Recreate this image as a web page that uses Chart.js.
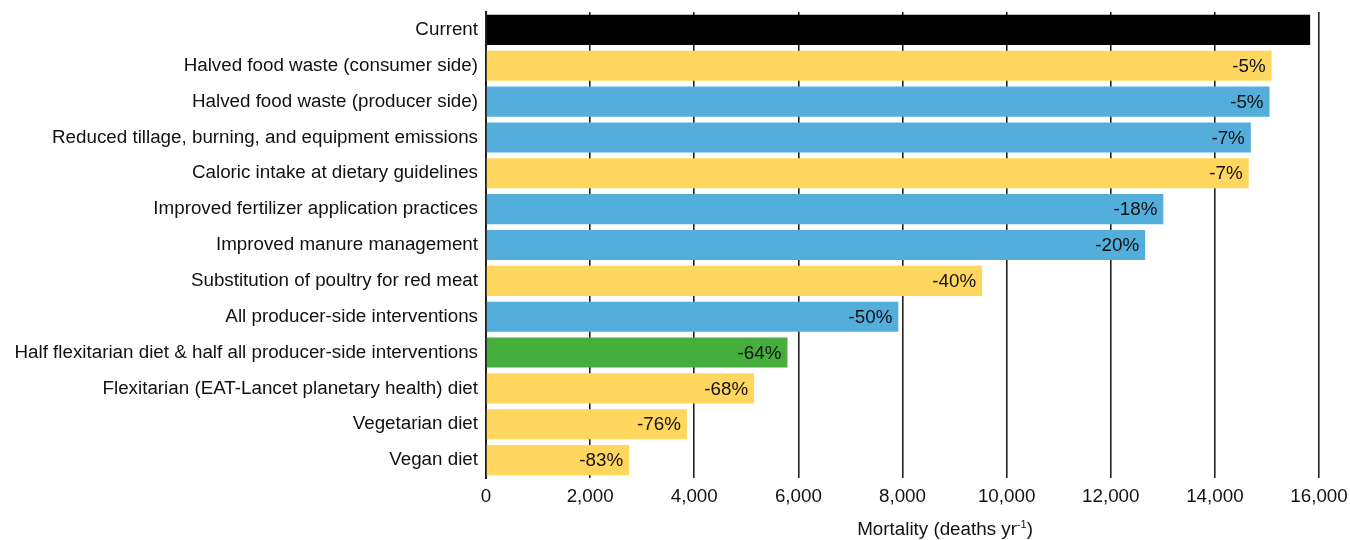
<!DOCTYPE html>
<html>
<head>
<meta charset="utf-8">
<script src="https://cdn.jsdelivr.net/npm/chart.js@4/dist/chart.umd.min.js"></script>
<style>
  html, body { margin: 0; padding: 0; background: #fff; }
  #wrap { width: 1350px; height: 540px; }
</style>
</head>
<body>
<div id="wrap"><canvas id="mortalityChart"></canvas></div>
<script>
// scenarios, top to bottom
const scenarios = [
  'Current',
  'Halved food waste (consumer side)',
  'Halved food waste (producer side)',
  'Reduced tillage, burning, and equipment emissions',
  'Caloric intake at dietary guidelines',
  'Improved fertilizer application practices',
  'Improved manure management',
  'Substitution of poultry for red meat',
  'All producer-side interventions',
  'Half flexitarian diet & half all producer-side interventions',
  'Flexitarian (EAT-Lancet planetary health) diet',
  'Vegetarian diet',
  'Vegan diet'
];

// deaths per year
const mortality = [15830, 15090, 15050, 14690, 14650, 13010, 12660, 9530, 7920, 5790, 5150, 3860, 2750];

// change vs current
const changeLabels = ['', '-5%', '-5%', '-7%', '-7%', '-18%', '-20%', '-40%', '-50%', '-64%', '-68%', '-76%', '-83%'];

// which side the intervention is on
const groups = ['current', 'consumer', 'producer', 'producer', 'consumer', 'producer', 'producer',
  'consumer', 'producer', 'combined', 'consumer', 'consumer', 'consumer'];

const xTicks = [0, 2000, 4000, 6000, 8000, 10000, 12000, 14000, 16000];

const groupColors = {
  current: '#000000',
  consumer: '#FFD75E',
  producer: '#54AEDB',
  combined: '#46AE3C'
};

const FONT = '"Liberation Sans", Arial, Helvetica, sans-serif';
const FS = 18.8;

// percent labels inside the bar ends
const barLabels = {
  id: 'barLabels',
  afterDatasetsDraw(chart) {
    const ctx = chart.ctx;
    const meta = chart.getDatasetMeta(0);
    ctx.save();
    ctx.font = FS + 'px ' + FONT;
    ctx.fillStyle = '#111';
    ctx.textAlign = 'right';
    ctx.textBaseline = 'middle';
    meta.data.forEach((bar, i) => {
      if (changeLabels[i]) ctx.fillText(changeLabels[i], bar.x - 6, bar.y + 1);
    });
    ctx.restore();
  }
};

// axis title, sits a bit right of centre like the original
const axisTitle = {
  id: 'axisTitle',
  afterDraw(chart) {
    const ctx = chart.ctx;
    const x = chart.scales.x;
    ctx.save();
    ctx.font = FS + 'px ' + FONT;
    ctx.fillStyle = '#111';
    ctx.textAlign = 'left';
    ctx.textBaseline = 'middle';
    const left = x.getPixelForValue(7130);
    const y = 530;
    const base = 'Mortality (deaths yr';
    ctx.fillText(base, left, y);
    let w = ctx.measureText(base).width;
    ctx.font = '11px ' + FONT;
    ctx.fillText('-1', left + w, y - 5);
    w += ctx.measureText('-1').width;
    ctx.font = FS + 'px ' + FONT;
    ctx.fillText(')', left + w, y);
    ctx.restore();
  }
};

new Chart(document.getElementById('mortalityChart'), {
  type: 'bar',
  data: {
    labels: scenarios,
    datasets: [{
      data: mortality,
      backgroundColor: groups.map(g => groupColors[g]),
      borderWidth: 0,
      categoryPercentage: 1,
      barPercentage: 0.84
    }]
  },
  options: {
    indexAxis: 'y',
    responsive: true,
    maintainAspectRatio: false,
    animation: false,
    layout: { padding: { left: 0, right: 31, top: 12, bottom: 0 } },
    plugins: {
      legend: { display: false },
      tooltip: { enabled: false }
    },
    scales: {
      x: {
        min: 0,
        max: 16000,
        afterBuildTicks: (scale) => { scale.ticks = xTicks.map(v => ({ value: v })); },
        afterFit: (scale) => {
          scale.height = 62;
          scale.paddingLeft = 0;
          scale.paddingRight = 0;
        },
        grid: {
          color: '#222',
          lineWidth: 1.6,
          drawTicks: false
        },
        border: { display: false },
        ticks: {
          padding: 8,
          color: '#111',
          font: { family: FONT, size: FS }
        }
      },
      y: {
        afterFit: (scale) => {
          scale.width = 486;
          scale.paddingTop = 0;
          scale.paddingBottom = 0;
        },
        grid: { display: false, drawTicks: false },
        border: { display: true, color: '#222', width: 2 },
        ticks: {
          padding: 8,
          color: '#111',
          font: { family: FONT, size: FS }
        }
      }
    }
  },
  plugins: [barLabels, axisTitle]
});
</script>
</body>
</html>
